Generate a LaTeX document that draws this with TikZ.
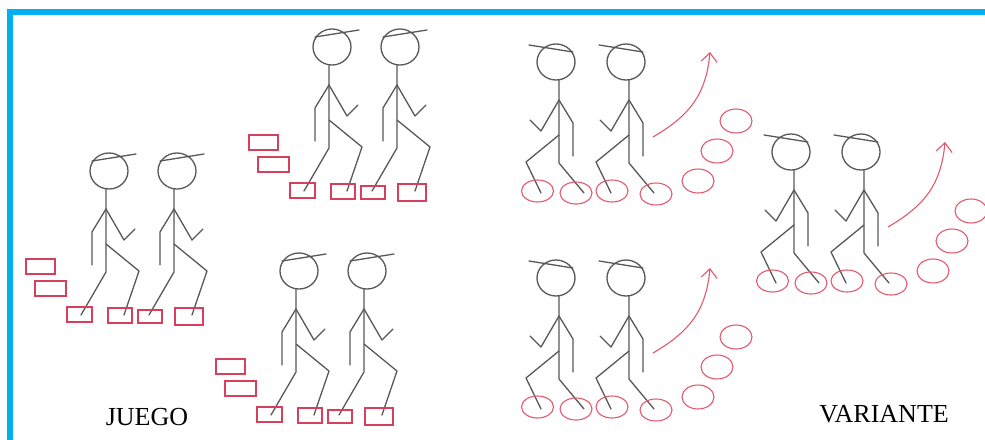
\documentclass[tikz,border=0pt]{standalone}
\usepackage{fontspec}
\setmainfont{Liberation Serif}
\usetikzlibrary{arrows.meta}
\definecolor{framecolor}{RGB}{0,176,240}
\definecolor{stickgray}{RGB}{88,88,88}
\definecolor{brickred}{RGB}{214,64,90}
\definecolor{hoopred}{RGB}{226,88,108}

\tikzset{
  limb/.style={stickgray, line width=1.3pt, line join=round, line cap=round},
  brick/.style={brickred, line width=1.2pt},
  hoop/.style={hoopred, line width=1.1pt},
  label/.style={font=\fontsize{26}{30}\selectfont, anchor=base, inner sep=0pt},
  % walking figure, head centre at the origin, #1 = depth of the feet
  pics/walker/.style={code={
    \draw[limb] (0,0) circle [x radius=19pt, y radius=18pt];
    \draw[limb] (-17,-10) -- (27,-17);
    \draw[limb] (-3,18) -- (-3,101) -- (-28,#1);
    \draw[limb] (-3,73) -- (30,100) -- (15,#1);
    \draw[limb] (-3,38) -- (-17,61) -- (-17,94);
    \draw[limb] (-3,38) -- (15,69) -- (26,58);
  }},
  % two walkers stepping on bricks
  pics/juegopair/.style={code={
    \pic at (0,0) {walker=144};
    \pic at (68,0) {walker=144};
    \draw[brick] (-83,88) rectangle (-54,103);
    \draw[brick] (-74,110) rectangle (-43,125);
    \draw[brick] (-42,136) rectangle (-17,151);
    \draw[brick] (-1,137) rectangle (23,152);
    \draw[brick] (29,139) rectangle (53,152);
    \draw[brick] (66,137) rectangle (94,154);
  }},
  % two walkers on hoops, turning off to the side
  pics/variantepair/.style={code={
    \pic[xscale=-1] at (-3,0) {walker=131};
    \pic[xscale=-1] at (67,0) {walker=131};
    \foreach \hx/\hy in {-21.5/129, 17/131, 53/129, 97/132}
      \draw[hoop] (\hx,\hy) ellipse [x radius=16pt, y radius=11pt];
    \foreach \hx/\hy in {139/119, 158/89, 177/59}
      \draw[hoop] (\hx,\hy) ellipse [x radius=16pt, y radius=12pt];
    \draw[hoop, -{Straight Barb[length=9pt, width=16pt]}]
      (94,75) .. controls (128,55) and (147,35) .. (151,-10);
  }}
}

\begin{document}
\begin{tikzpicture}[x=1pt, y=-1pt]
  \useasboundingbox (0,0) rectangle (985,439);
  \clip (0,0) rectangle (985,439);

  % frame
  \draw[framecolor, line width=6pt] (10,460) -- (10,12) -- (1000,12);

  % game: three pairs on bricks
  \pic at (109,171) {juegopair};
  \pic at (332,47) {juegopair};
  \pic at (299,271) {juegopair};

  % variant: three pairs on hoops
  \pic at (559,62) {variantepair};
  \pic at (559,278) {variantepair};
  \pic at (794,152) {variantepair};

  % captions
  \node[label] (juego) at (147,425) {JUEGO};
  \node[label] (variante) at (884,422) {VARIANTE};
\end{tikzpicture}
\end{document}
